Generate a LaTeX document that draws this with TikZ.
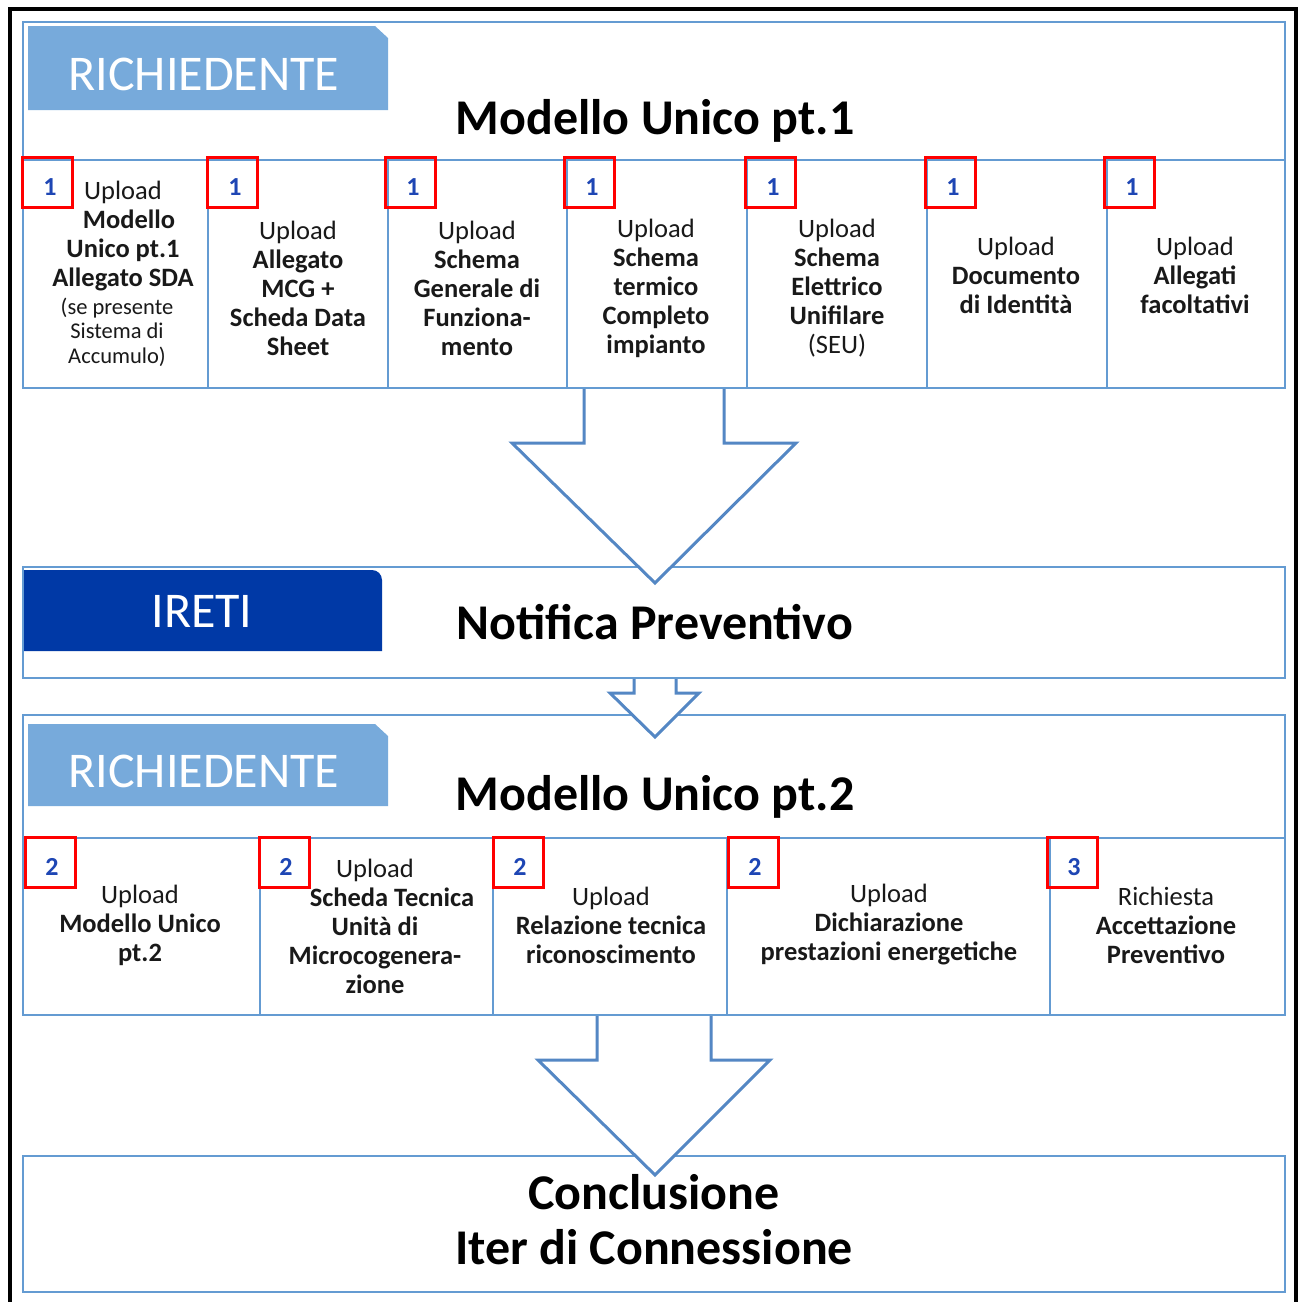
\documentclass[tikz,border=0pt]{standalone}
\usepackage{fontspec}
\setmainfont{Carlito}
\definecolor{panelblue}{RGB}{100,155,210}
\definecolor{arrowblue}{RGB}{84,135,196}
\definecolor{tablight}{RGB}{119,170,219}
\definecolor{tabdark}{RGB}{0,57,166}
\definecolor{numblue}{RGB}{30,70,180}
\definecolor{txt}{RGB}{25,25,25}
\tikzset{
  panel/.style={draw=panelblue, line width=2.5pt},
  divider/.style={draw=panelblue, line width=1.6pt},
  numbox/.style={draw=red, line width=3pt, minimum width=50pt, minimum height=50pt, inner sep=0pt},
  numtext/.style={font=\fontsize{26}{26}\selectfont\bfseries, text=numblue, inner sep=0pt},
  celltext/.style={align=center, font=\fontsize{26.5}{29}\selectfont, text=txt, inner sep=0pt},
  smalltext/.style={align=center, font=\fontsize{22.5}{24.5}\selectfont, text=txt, inner sep=0pt},
  titletext/.style={font=\fontsize{50}{55}\selectfont\bfseries, align=center, inner sep=0pt},
  tabtext/.style={text=white, font=\fontsize{50}{50}\selectfont, inner sep=0pt},
  blockarrow/.style={draw=arrowblue, line width=3pt, line join=miter},
}
\begin{document}
\begin{tikzpicture}[x=1pt,y=-1pt]
\useasboundingbox (0,0) rectangle (1302,1302);
\fill[white] (0,0) rectangle (1302,1302);
% outer black frame
\draw[line width=4pt] (10,1310) -- (10,9) -- (1296,9) -- (1296,1310);

% ---------- Panel 1 ----------
\draw[panel] (23,22) rectangle (1285,388);
\draw[divider] (23,160) -- (1285,160);
\foreach \x in {208,388,567,747,927,1107} \draw[divider] (\x,160) -- (\x,388);
\fill[tablight] (28,26) -- (375,26) -- (388,38) -- (388,110) -- (28,110) -- cycle;
\node[tabtext] (tab1) at (204,74) {RICHIEDENTE};
\node[titletext] (title1) at (655,121) {Modello Unico pt.1};

% ---------- Panel 2 ----------
\draw[panel] (23,567) rectangle (1285,678);
\fill[tabdark] (24,570) -- (372,570) .. controls (377.5,570) and (382,574.5) .. (382,580) -- (382,651) -- (24,651) -- cycle;
\node[tabtext] (tab2) at (202,611) {IRETI};
\node[titletext] (title2) at (655,622) {Notifica Preventivo};

% ---------- Panel 3 ----------
\draw[panel] (23,715) rectangle (1285,1015);
\draw[divider] (23,838) -- (1285,838);
\foreach \x in {260,493,727,1050} \draw[divider] (\x,838) -- (\x,1015);
\fill[tablight] (28,724) -- (375,724) -- (388,736) -- (388,806) -- (28,806) -- cycle;
\node[tabtext] (tab3) at (204,771) {RICHIEDENTE};
\node[titletext] (title3) at (655,797) {Modello Unico pt.2};

% ---------- Conclusion ----------
\draw[panel] (23,1156) rectangle (1285,1292);

% ---------- Block arrows ----------
\fill[white] (584,391) -- (584,443) -- (512,443) -- (655,583) -- (796,443) -- (724,443) -- (724,391) -- cycle;
\draw[blockarrow] (584,389) -- (584,443) -- (512,443) -- (655,583) -- (796,443) -- (724,443) -- (724,389);

\fill[white] (634,681) -- (634,693) -- (610,693) -- (655,737) -- (699,693) -- (676,693) -- (676,681) -- cycle;
\draw[blockarrow] (634,679) -- (634,693) -- (610,693) -- (655,737) -- (699,693) -- (676,693) -- (676,679);

\fill[white] (597,1018) -- (597,1060) -- (538,1060) -- (655,1175) -- (770,1060) -- (711,1060) -- (711,1018) -- cycle;
\draw[blockarrow] (597,1016) -- (597,1060) -- (538,1060) -- (655,1175) -- (770,1060) -- (711,1060) -- (711,1016);

\node[titletext] (concl) at (654,1220) {Conclusione\\Iter di Connessione};

% ---------- Red number boxes row 1 ----------
\foreach \x/\n in {47/a,232/b,410/c,589/d,770/e,950/f,1129/g}{
  \node[numbox] (n1\n) at (\x,182) {};
  \node[numtext] at ([shift={(3,5)}]n1\n.center) {1};
}
% ---------- Red number boxes row 2 ----------
\foreach \x/\n/\t in {50/a/2,284/b/2,518/c/2,753/d/2,1072/e/3}{
  \node[numbox] (n2\n) at (\x,862) {};
  \node[numtext] at ([shift={(2,5)}]n2\n.center) {\t};
}

% ---------- Cell texts row 1 ----------
\node[celltext] (c1) at (123,236) {Upload\\\hspace*{12pt}\textbf{Modello}\\\textbf{Unico pt.1}\\\textbf{Allegato SDA}};
\node[smalltext] (c1s) at (117,332) {(se presente\\Sistema di\\Accumulo)};
\node[celltext] (c2) at (298,288) {Upload\\\textbf{Allegato}\\\textbf{MCG +}\\\textbf{Scheda Data}\\\textbf{Sheet}};
\node[celltext] (c3) at (477,288) {Upload\\\textbf{Schema}\\\textbf{Generale di}\\\textbf{Funziona-}\\\textbf{mento}};
\node[celltext] (c4) at (656,288) {Upload\\\textbf{Schema}\\\textbf{termico}\\\textbf{Completo}\\\textbf{impianto}};
\node[celltext] (c5) at (837,288) {Upload\\\textbf{Schema}\\\textbf{Elettrico}\\\textbf{Unifilare}\\(SEU)};
\node[celltext] (c6) at (1016,275) {Upload\\\textbf{Documento}\\\textbf{di Identità}};
\node[celltext] (c7) at (1195,275) {Upload\\\textbf{Allegati}\\\textbf{facoltativi}};

% ---------- Cell texts row 2 ----------
\node[celltext] (d1) at (140,925) {Upload\\\textbf{Modello Unico}\\\textbf{pt.2}};
\node[celltext] (d2) at (375,926) {Upload\\\hspace*{34pt}\textbf{Scheda Tecnica}\\\textbf{Unità di}\\\textbf{Microcogenera-}\\\textbf{zione}};
\node[celltext] (d3) at (611,925) {Upload\\\textbf{Relazione tecnica}\\\textbf{riconoscimento}};
\node[celltext] (d4) at (889,925) {Upload\\\textbf{Dichiarazione}\\\textbf{prestazioni energetiche}};
\node[celltext] (d5) at (1166,925) {Richiesta\\\textbf{Accettazione}\\\textbf{Preventivo}};
\end{tikzpicture}
\end{document}
